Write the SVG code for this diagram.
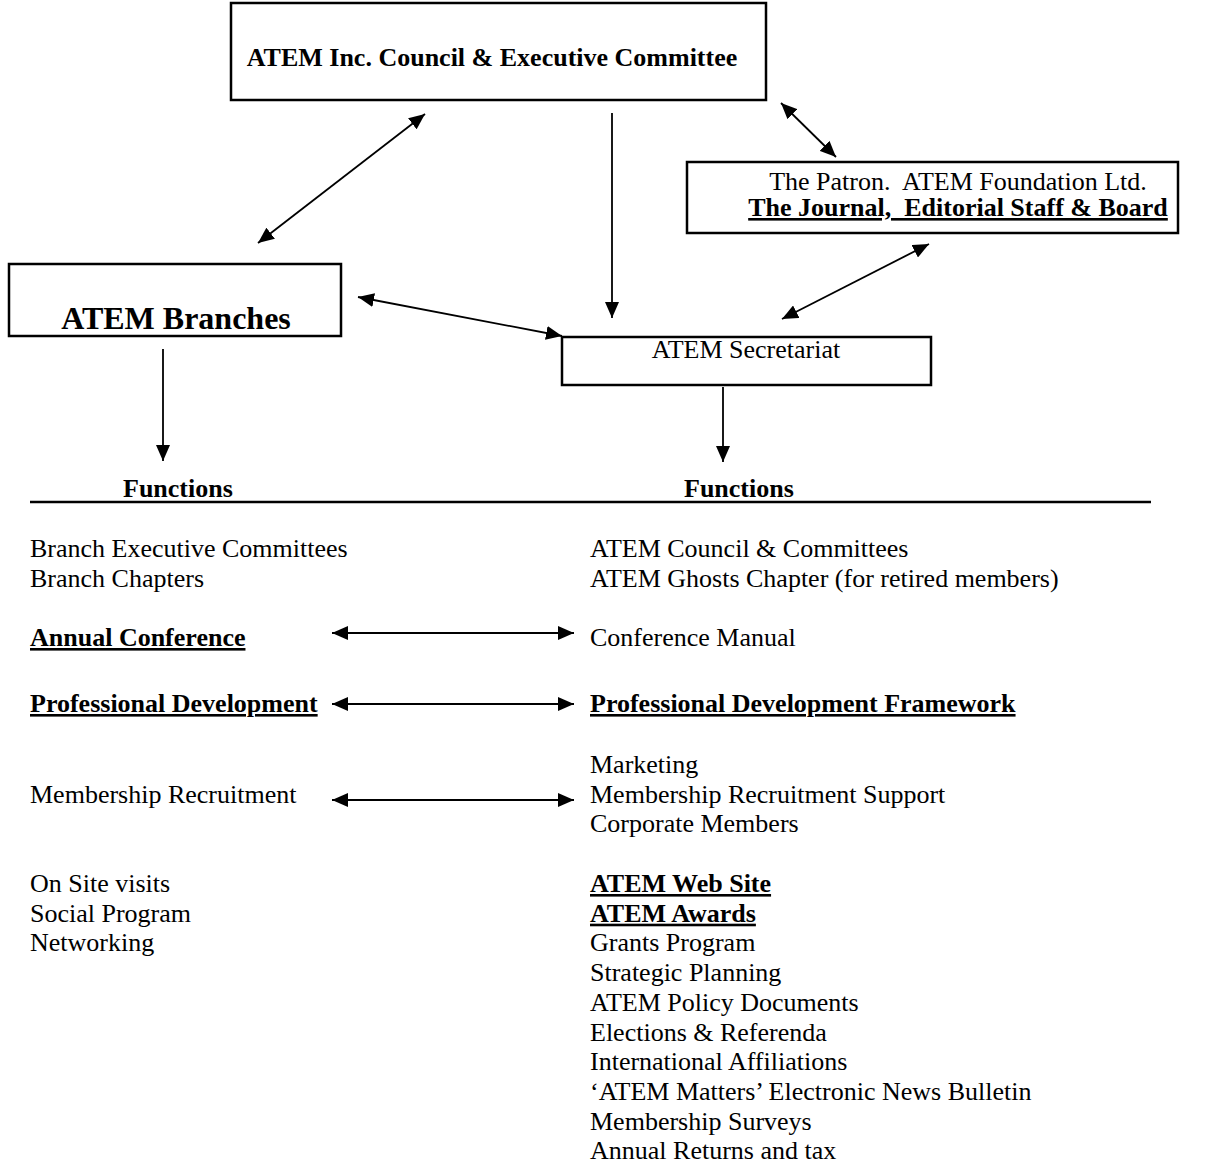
<svg xmlns="http://www.w3.org/2000/svg" width="1224" height="1164" viewBox="0 0 1224 1164">
<style>
  text { font-family: "Liberation Serif", "Times New Roman", serif; fill: #000; }
  .t { font-size: 26px; }
  .b { font-size: 26px; font-weight: bold; }
  .u { text-decoration: underline; }
  .box { fill: #fff; stroke: #000; stroke-width: 2.5; }
  .c { stroke: #000; stroke-width: 1.8; fill: none; }
</style>
<defs>
  <marker id="ah" viewBox="0 0 16 14" refX="16" refY="7" markerWidth="16" markerHeight="14" markerUnits="userSpaceOnUse" orient="auto-start-reverse">
    <path d="M0,0 L16,7 L0,14 Z" fill="#000"/>
  </marker>
</defs>
<rect width="1224" height="1164" fill="#fff"/>

<g id="council">
  <rect class="box" x="231" y="3" width="535" height="97"/>
  <text class="b" x="492" y="66" text-anchor="middle">ATEM Inc. Council &amp; Executive Committee</text>
</g>
<g id="patron">
  <rect class="box" x="687" y="162" width="491" height="71"/>
  <text class="t" x="958" y="190" text-anchor="middle" xml:space="preserve">The Patron.  ATEM Foundation Ltd.</text>
  <text class="b u" x="958" y="216" text-anchor="middle" xml:space="preserve">The Journal,  Editorial Staff &amp; Board</text>
</g>
<g id="branches">
  <rect class="box" x="9" y="264" width="332" height="72"/>
  <text x="176" y="329" text-anchor="middle" style="font-size:32px;font-weight:bold">ATEM Branches</text>
</g>
<g id="secretariat">
  <rect class="box" x="562" y="337" width="369" height="48"/>
  <text class="t" x="746" y="358" text-anchor="middle">ATEM Secretariat</text>
</g>

<g id="connectors">
  <line class="c" x1="425" y1="114" x2="258" y2="243" marker-start="url(#ah)" marker-end="url(#ah)"/>
  <line class="c" x1="781" y1="103" x2="836" y2="157" marker-start="url(#ah)" marker-end="url(#ah)"/>
  <line class="c" x1="612" y1="113" x2="612" y2="318" marker-end="url(#ah)"/>
  <line class="c" x1="358" y1="297" x2="562" y2="336" marker-start="url(#ah)" marker-end="url(#ah)"/>
  <line class="c" x1="929" y1="244" x2="782" y2="319" marker-start="url(#ah)" marker-end="url(#ah)"/>
  <line class="c" x1="163" y1="349" x2="163" y2="461" marker-end="url(#ah)"/>
  <line class="c" x1="723" y1="387" x2="723" y2="462" marker-end="url(#ah)"/>
  <line class="c" x1="332" y1="633" x2="574" y2="633" marker-start="url(#ah)" marker-end="url(#ah)"/>
  <line class="c" x1="332" y1="704" x2="574" y2="704" marker-start="url(#ah)" marker-end="url(#ah)"/>
  <line class="c" x1="332" y1="800" x2="574" y2="800" marker-start="url(#ah)" marker-end="url(#ah)"/>
</g>

<g id="functions-header">
  <text class="b" x="123" y="497">Functions</text>
  <text class="b" x="684" y="497">Functions</text>
  <line x1="30" y1="502" x2="1151" y2="502" stroke="#000" stroke-width="2.5"/>
</g>

<g id="branch-functions">
  <text class="t" x="30" y="557">Branch Executive Committees</text>
  <text class="t" x="30" y="587">Branch Chapters</text>
  <text class="b u" x="30" y="646">Annual Conference</text>
  <text class="b u" x="30" y="712">Professional Development</text>
  <text class="t" x="30" y="803">Membership Recruitment</text>
  <text class="t" x="30" y="892">On Site visits</text>
  <text class="t" x="30" y="921.7">Social Program</text>
  <text class="t" x="30" y="951.4">Networking</text>
</g>

<g id="secretariat-functions">
  <text class="t" x="590" y="557">ATEM Council &amp; Committees</text>
  <text class="t" x="590" y="587">ATEM Ghosts Chapter (for retired members)</text>
  <text class="t" x="590" y="646">Conference Manual</text>
  <text class="b u" x="590" y="712">Professional Development Framework</text>
  <text class="t" x="590" y="773">Marketing</text>
  <text class="t" x="590" y="802.7">Membership Recruitment Support</text>
  <text class="t" x="590" y="832.4">Corporate Members</text>
  <text class="b u" x="590" y="892">ATEM Web Site</text>
  <text class="b u" x="590" y="921.7">ATEM Awards</text>
  <text class="t" x="590" y="951.4">Grants Program</text>
  <text class="t" x="590" y="981.1">Strategic Planning</text>
  <text class="t" x="590" y="1010.8">ATEM Policy Documents</text>
  <text class="t" x="590" y="1040.5">Elections &amp; Referenda</text>
  <text class="t" x="590" y="1070.2">International Affiliations</text>
  <text class="t" x="590" y="1099.9">‘ATEM Matters’ Electronic News Bulletin</text>
  <text class="t" x="590" y="1129.6">Membership Surveys</text>
  <text class="t" x="590" y="1159.3">Annual Returns and tax</text>
</g>
</svg>
